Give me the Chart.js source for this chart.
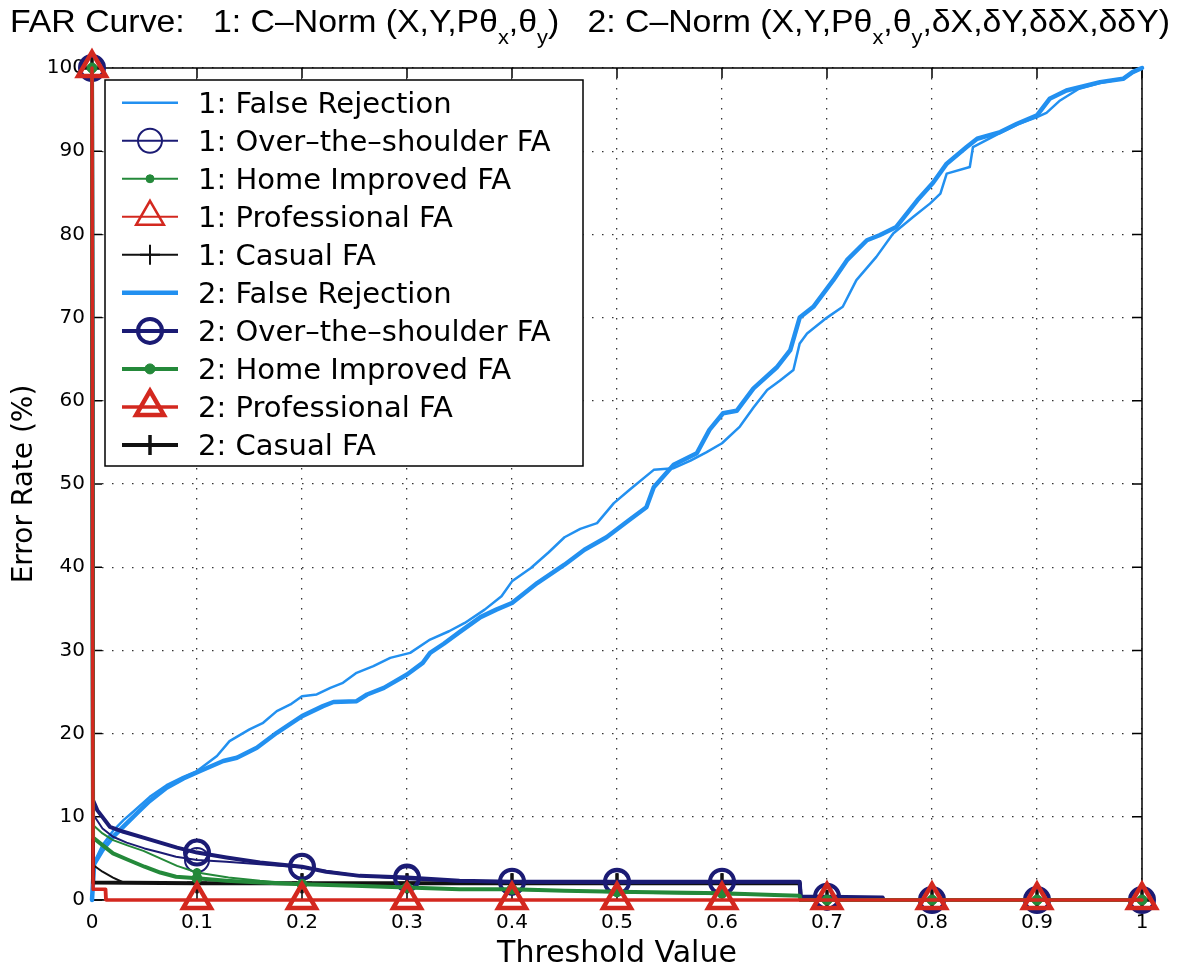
<!DOCTYPE html>
<html>
<head>
<meta charset="utf-8">
<script src="https://cdn.jsdelivr.net/npm/chart.js@4.4.1/dist/chart.umd.min.js"></script>
<style>
  html, body { margin: 0; padding: 0; background: #fff; }
  #wrap { width: 1180px; height: 973px; }
</style>
</head>
<body>
<div id="wrap"><canvas id="far" width="1180" height="973"></canvas></div>
<script>
// Axis ticks
const X_TICKS = [0, 0.1, 0.2, 0.3, 0.4, 0.5, 0.6, 0.7, 0.8, 0.9, 1];
const X_TICK_LABELS = ['0', '0.1', '0.2', '0.3', '0.4', '0.5', '0.6', '0.7', '0.8', '0.9', '1'];
const Y_TICKS = [0, 10, 20, 30, 40, 50, 60, 70, 80, 90, 100];
const Y_TICK_LABELS = ['0', '10', '20', '30', '40', '50', '60', '70', '80', '90', '100'];

// [threshold, error rate %] — feature set 1
const falseRejection1 = [[0,0],[0.002,4.5],[0.01,6.6],[0.02,8.3],[0.03,9.6],[0.04,10.7],[0.055,12.4],[0.071,13.8],[0.087,14.8],[0.1,15.5],[0.119,17.3],[0.131,19.1],[0.15,20.5],[0.163,21.3],[0.176,22.7],[0.189,23.5],[0.2,24.5],[0.214,24.7],[0.227,25.5],[0.239,26.1],[0.252,27.3],[0.268,28.1],[0.284,29.1],[0.303,29.7],[0.322,31.3],[0.34,32.3],[0.355,33.3],[0.374,34.9],[0.39,36.5],[0.4,38.3],[0.418,39.9],[0.435,41.8],[0.45,43.6],[0.465,44.6],[0.481,45.3],[0.497,47.7],[0.512,49.3],[0.535,51.7],[0.554,51.9],[0.57,52.8],[0.585,53.8],[0.6,54.9],[0.617,56.9],[0.63,59.2],[0.643,61.3],[0.655,62.4],[0.668,63.7],[0.674,66.9],[0.681,68.1],[0.7,70.0],[0.715,71.3],[0.728,74.5],[0.747,77.3],[0.763,80.1],[0.782,82.1],[0.798,83.7],[0.808,84.9],[0.814,87.3],[0.836,88.1],[0.839,90.5],[0.865,92.2],[0.881,93.2],[0.9,94.1],[0.909,94.6],[0.922,96.1],[0.94,97.5],[0.96,98.2],[0.982,98.7],[0.991,99.4],[1,100]];
const shoulderFA1 = [[0,100],[0.001,10.3],[0.01,8.6],[0.02,7.6],[0.033,6.9],[0.05,6.2],[0.065,5.7],[0.08,5.2],[0.1,4.8],[0.128,4.6],[0.16,4.3],[0.2,3.9],[0.25,3.0],[0.3,2.5],[0.35,2.2],[0.4,2.1],[0.5,2.0],[0.6,2.1],[0.674,2.1],[0.675,0.3],[0.7,0.3],[0.753,0.2],[0.754,0],[0.8,0],[0.9,0],[1,0]];
const homeFA1 = [[0,100],[0.001,9.0],[0.01,8.0],[0.02,7.2],[0.035,6.5],[0.049,5.9],[0.065,5.0],[0.081,4.1],[0.1,3.3],[0.13,2.7],[0.16,2.3],[0.2,1.9],[0.25,1.7],[0.3,1.5],[0.35,1.3],[0.4,1.2],[0.45,1.1],[0.5,0.9],[0.55,0.8],[0.6,0.7],[0.65,0.6],[0.674,0.5],[0.675,0],[0.7,0],[0.8,0],[0.9,0],[1,0]];
const professionalFA1 = [[0,100],[0.001,1.2],[0.012,1.2],[0.0125,0],[0.1,0],[0.2,0],[0.3,0],[0.4,0],[0.5,0],[0.6,0],[0.7,0],[0.8,0],[0.9,0],[1,0]];
const casualFA1 = [[0,100],[0.001,4.2],[0.01,3.4],[0.02,2.7],[0.03,2.1],[0.1,2.0],[0.2,2.0],[0.3,2.0],[0.4,2.0],[0.5,2.0],[0.6,2.0],[0.674,2.0],[0.675,0],[0.7,0],[0.8,0],[0.9,0],[1,0]];

// [threshold, error rate %] — feature set 2
const falseRejection2 = [[0,0],[0.002,4.3],[0.01,6.0],[0.02,7.6],[0.033,9.2],[0.045,10.7],[0.055,11.9],[0.071,13.5],[0.087,14.6],[0.103,15.5],[0.125,16.7],[0.138,17.1],[0.157,18.3],[0.176,20.1],[0.2,22.1],[0.22,23.3],[0.23,23.8],[0.252,23.9],[0.262,24.7],[0.278,25.5],[0.3,27.1],[0.315,28.5],[0.322,29.7],[0.335,30.8],[0.35,32.2],[0.37,34.0],[0.385,34.9],[0.4,35.7],[0.424,38.1],[0.45,40.3],[0.469,42.1],[0.49,43.6],[0.512,45.7],[0.528,47.2],[0.535,49.6],[0.554,52.3],[0.576,53.7],[0.588,56.5],[0.601,58.5],[0.614,58.8],[0.63,61.5],[0.652,64.0],[0.665,66.1],[0.674,70.0],[0.687,71.3],[0.706,74.5],[0.719,76.9],[0.738,79.3],[0.75,79.9],[0.766,80.9],[0.786,84.1],[0.801,86.2],[0.814,88.5],[0.833,90.5],[0.843,91.5],[0.865,92.3],[0.881,93.3],[0.9,94.3],[0.912,96.3],[0.928,97.3],[0.96,98.3],[0.982,98.7],[0.991,99.5],[1,100]];
const shoulderFA2 = [[0,100],[0.001,12.0],[0.005,10.8],[0.017,8.8],[0.03,8.2],[0.049,7.5],[0.065,6.9],[0.081,6.3],[0.1,5.7],[0.128,5.1],[0.16,4.5],[0.2,4.0],[0.223,3.4],[0.255,2.9],[0.3,2.7],[0.35,2.3],[0.4,2.2],[0.45,2.2],[0.5,2.2],[0.55,2.2],[0.6,2.2],[0.674,2.2],[0.675,0.4],[0.7,0.4],[0.753,0.3],[0.754,0],[0.8,0],[0.9,0],[1,0]];
const homeFA2 = [[0,100],[0.001,7.5],[0.01,6.6],[0.02,5.6],[0.033,4.9],[0.05,4.0],[0.065,3.3],[0.08,2.8],[0.1,2.6],[0.128,2.3],[0.16,2.1],[0.2,1.9],[0.25,1.7],[0.3,1.5],[0.35,1.3],[0.4,1.3],[0.45,1.1],[0.5,1.0],[0.55,0.9],[0.6,0.8],[0.65,0.6],[0.674,0.5],[0.675,0],[0.7,0],[0.8,0],[0.9,0],[1,0]];
const professionalFA2 = [[0,100],[0.001,1.3],[0.013,1.3],[0.0135,0],[0.1,0],[0.2,0],[0.3,0],[0.4,0],[0.5,0],[0.6,0],[0.7,0],[0.8,0],[0.9,0],[1,0]];
const casualFA2 = [[0,100],[0.001,2.1],[0.1,2.0],[0.2,2.0],[0.3,2.0],[0.4,2.0],[0.5,2.0],[0.6,2.0],[0.674,2.0],[0.675,0],[0.7,0],[0.8,0],[0.9,0],[1,0]];

const LIGHT_BLUE = '#2290f0';
const NAVY = '#1b1b74';
const GREEN = '#24893a';
const RED = '#d3281f';
const BLACK = '#111111';

const toPoints = rows => rows.map(([x, y]) => ({ x, y }));
const onTenth = v => Math.abs(v * 10 - Math.round(v * 10)) < 1e-6;

function series(label, rows, color, width, marker, order) {
  const ds = {
    label,
    data: toPoints(rows),
    borderColor: color,
    backgroundColor: color,
    borderWidth: width,
    borderJoinStyle: 'round',
    borderCapStyle: 'round',
    tension: 0,
    fill: false,
    clip: false,
    order,
    marker: marker || null,
    pointRadius: 0
  };
  if (marker) {
    ds.pointStyle = marker.style;
    ds.pointBorderColor = color;
    ds.pointBackgroundColor = marker.filled ? color : 'rgba(0,0,0,0)';
    ds.pointBorderWidth = marker.width;
    ds.pointRadius = c => (c.raw && onTenth(c.raw.x)) ? marker.radius : 0;
  }
  return ds;
}

const datasets = [
  series('1: False Rejection', falseRejection1, LIGHT_BLUE, 2.5, null, 10),
  series('1: Over\u2013the\u2013shoulder FA', shoulderFA1, NAVY, 2, { style: 'circle', radius: 12, width: 2 }, 6),
  series('1: Home Improved FA', homeFA1, GREEN, 2, { style: 'circle', radius: 4, width: 1, filled: true }, 4),
  series('1: Professional FA', professionalFA1, RED, 2, { style: 'triangle', radius: 16, width: 2.5 }, 2),
  series('1: Casual FA', casualFA1, BLACK, 2, { style: 'cross', radius: 10, width: 2 }, 8),
  series('2: False Rejection', falseRejection2, LIGHT_BLUE, 4.5, null, 9),
  series('2: Over\u2013the\u2013shoulder FA', shoulderFA2, NAVY, 4, { style: 'circle', radius: 12, width: 4 }, 5),
  series('2: Home Improved FA', homeFA2, GREEN, 4, { style: 'circle', radius: 5, width: 1, filled: true }, 3),
  series('2: Professional FA', professionalFA2, RED, 3.5, { style: 'triangle', radius: 16, width: 4.5 }, 1),
  series('2: Casual FA', casualFA2, BLACK, 4, { style: 'cross', radius: 10, width: 3.5 }, 7)
];

// Plot frame with inward tick marks on all four sides
const framePlugin = {
  id: 'frame',
  beforeDatasetsDraw(chart) {
    const { ctx, chartArea: a, scales } = chart;
    const L = 10;
    ctx.save();
    ctx.strokeStyle = '#000';
    ctx.lineWidth = 1.5;
    ctx.strokeRect(a.left, a.top, a.right - a.left, a.bottom - a.top);
    ctx.beginPath();
    scales.x.ticks.forEach(t => {
      const p = scales.x.getPixelForValue(t.value);
      ctx.moveTo(p, a.bottom); ctx.lineTo(p, a.bottom - L);
      ctx.moveTo(p, a.top); ctx.lineTo(p, a.top + L);
    });
    scales.y.ticks.forEach(t => {
      const p = scales.y.getPixelForValue(t.value);
      ctx.moveTo(a.left, p); ctx.lineTo(a.left + L, p);
      ctx.moveTo(a.right, p); ctx.lineTo(a.right - L, p);
    });
    ctx.stroke();
    ctx.restore();
  }
};

function drawMarker(ctx, m, color, x, y) {
  ctx.save();
  ctx.strokeStyle = color;
  ctx.fillStyle = m.filled ? color : 'rgba(0,0,0,0)';
  ctx.lineWidth = m.width;
  if (Chart.helpers && Chart.helpers.drawPoint) {
    Chart.helpers.drawPoint(ctx, { pointStyle: m.style, radius: m.radius, borderWidth: m.width, rotation: 0 }, x, y);
  }
  ctx.restore();
}

// Boxed legend in the upper-left of the plot, line sample with marker
const legendPlugin = {
  id: 'boxLegend',
  afterDraw(chart) {
    const ctx = chart.ctx;
    const box = { x: 105, y: 80, w: 478, h: 386 };
    const row0 = 102.7, step = 38.03;
    ctx.save();
    ctx.fillStyle = '#fff';
    ctx.fillRect(box.x, box.y, box.w, box.h);
    ctx.strokeStyle = '#000';
    ctx.lineWidth = 1.5;
    ctx.strokeRect(box.x, box.y, box.w, box.h);
    chart.data.datasets.forEach((ds, i) => {
      const cy = row0 + i * step;
      ctx.strokeStyle = ds.borderColor;
      ctx.lineWidth = ds.borderWidth;
      ctx.lineCap = 'butt';
      ctx.beginPath();
      ctx.moveTo(122, cy);
      ctx.lineTo(178, cy);
      ctx.stroke();
      if (ds.marker) drawMarker(ctx, ds.marker, ds.borderColor, 150, cy);
      ctx.fillStyle = '#000';
      ctx.font = '29px "DejaVu Sans", sans-serif';
      ctx.textBaseline = 'alphabetic';
      ctx.textAlign = 'left';
      ctx.fillText(ds.label, 198, cy + 10.5);
    });
    ctx.restore();
  }
};

// Title with subscripted angle terms
const TITLE_RUNS = [
  { t: 'FAR Curve:   1: C\u2013Norm (X,Y,P\u03b8' }, { t: 'x', sub: true }, { t: ',\u03b8' }, { t: 'y', sub: true },
  { t: ')   2: C\u2013Norm (X,Y,P\u03b8' }, { t: 'x', sub: true }, { t: ',\u03b8' }, { t: 'y', sub: true },
  { t: ',\u03b4X,\u03b4Y,\u03b4\u03b4X,\u03b4\u03b4Y)' }
];
const titlePlugin = {
  id: 'richTitle',
  afterDraw(chart) {
    const ctx = chart.ctx;
    const mainFont = '31px "Liberation Sans", Arial, sans-serif';
    const subFont = '20px "Liberation Sans", Arial, sans-serif';
    ctx.save();
    ctx.fillStyle = '#000';
    ctx.textBaseline = 'alphabetic';
    ctx.textAlign = 'left';
    let total = 0;
    const widths = TITLE_RUNS.map(r => {
      ctx.font = r.sub ? subFont : mainFont;
      const w = ctx.measureText(r.t).width;
      total += w;
      return w;
    });
    const left = 10, right = 1170;
    ctx.translate(left, 0);
    ctx.scale((right - left) / total, 1);
    let cx = 0;
    TITLE_RUNS.forEach((r, i) => {
      ctx.font = r.sub ? subFont : mainFont;
      ctx.fillText(r.t, cx, r.sub ? 44 : 32);
      cx += widths[i];
    });
    ctx.restore();
  }
};

Chart.defaults.font.family = '"DejaVu Sans", sans-serif';
Chart.defaults.color = '#000';

new Chart(document.getElementById('far'), {
  type: 'line',
  data: { datasets },
  options: {
    responsive: false,
    animation: false,
    devicePixelRatio: 1,
    events: [],
    parsing: true,
    layout: { padding: { top: 68, right: 38, left: 0, bottom: 0 } },
    plugins: {
      legend: { display: false },
      title: { display: false },
      tooltip: { enabled: false }
    },
    scales: {
      x: {
        type: 'linear',
        min: 0,
        max: 1,
        afterBuildTicks: s => { s.ticks = X_TICKS.map(v => ({ value: v })); },
        afterFit: s => { s.height = 73; },
        ticks: {
          callback: (v, i) => X_TICK_LABELS[i],
          autoSkip: false,
          maxRotation: 0,
          padding: 11,
          color: '#000',
          font: { size: 20 }
        },
        grid: { color: 'rgba(0,0,0,0.8)', lineWidth: 1.3, drawTicks: false },
        border: { display: false, dash: [1.5, 8.5] },
        title: { display: true, text: 'Threshold Value', color: '#000', font: { size: 30 }, padding: { top: 0, bottom: 1 } }
      },
      y: {
        type: 'linear',
        min: 0,
        max: 100,
        afterBuildTicks: s => { s.ticks = Y_TICKS.map(v => ({ value: v })); },
        afterFit: s => { s.width = 92; },
        ticks: {
          callback: (v, i) => Y_TICK_LABELS[i],
          autoSkip: false,
          padding: 7,
          color: '#000',
          font: { size: 20 }
        },
        grid: { color: 'rgba(0,0,0,0.8)', lineWidth: 1.3, drawTicks: false },
        border: { display: false, dash: [1.5, 8.5] },
        title: { display: true, text: 'Error Rate (%)', color: '#000', font: { size: 28 }, padding: { top: 8, bottom: 0 } }
      }
    }
  },
  plugins: [framePlugin, legendPlugin, titlePlugin]
});
</script>
</body>
</html>
